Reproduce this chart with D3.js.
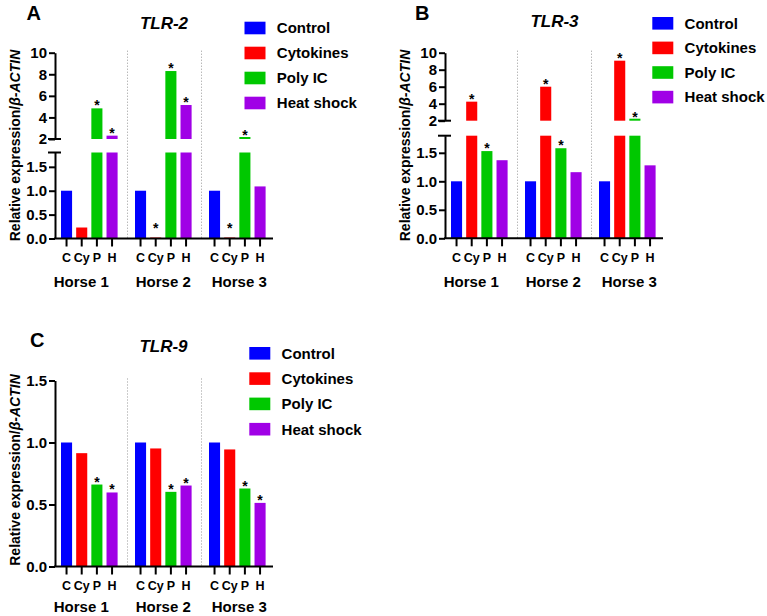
<!DOCTYPE html>
<html lang="en">
<head>
<meta charset="utf-8">
<title>TLR expression</title>
<script src="https://cdn.jsdelivr.net/npm/d3@7"></script>
<style>
  body { margin: 0; background: #fff; }
  svg text { font-family: "Liberation Sans", Arial, sans-serif; font-weight: bold; fill: #000; }
  .axis path, .axis line { stroke: #000; stroke-width: 2; }
  .sep { stroke: #999; stroke-width: 1; stroke-dasharray: 1,2; }
</style>
</head>
<body>
<div id="viz"></div>
<script>
// categories
const horses = ["Horse 1", "Horse 2", "Horse 3"];
const treatments = ["Control", "Cytokines", "Poly IC", "Heat shock"];
const treatAbbr = ["C", "Cy", "P", "H"];

// relative expression, one row per horse (C, Cy, P, H)
const tlr2 = [[1.00, 0.23, 4.84, 2.31], [1.00, 0.02, 8.30, 5.15], [1.00, 0.02, 2.12, 1.09]];
const tlr3 = [[1.00, 4.24, 1.53, 1.37], [1.00, 6.00, 1.58, 1.16], [1.00, 9.06, 2.08, 1.28]];
const tlr9 = [[1.00, 0.914, 0.661, 0.597], [1.00, 0.952, 0.602, 0.653], [1.00, 0.944, 0.629, 0.513]];

// significance marks (*)
const tlr2Sig = [[0, 0, 1, 1], [0, 1, 1, 1], [0, 1, 1, 0]];
const tlr3Sig = [[0, 1, 1, 0], [0, 1, 1, 0], [0, 1, 1, 0]];
const tlr9Sig = [[0, 0, 1, 1], [0, 0, 1, 1], [0, 0, 1, 1]];

// tick values
const lowTicks = [0, 0.5, 1.0, 1.5];
const highTicks = [2, 4, 6, 8, 10];

const colors = ["#0000ff", "#ff0000", "#00c800", "#a000e6"];
const color = d3.scaleOrdinal().domain(treatments).range(colors);

const svg = d3.select("#viz").append("svg")
  .attr("width", 767)
  .attr("height", 616);

function drawPanel(p) {
  const g = svg.append("g");
  const x0 = d3.scaleBand().domain(horses).range([p.ax + 2.5, p.ax + 224.5]);
  const x1 = d3.scaleBand().domain(treatments).range([3.5, 60.1]).paddingInner(0.27);
  const yLow = d3.scaleLinear().domain([0, p.lowMax]).range([p.y0, p.lowTop]);
  const yHigh = p.broken ? d3.scaleLinear().domain([2, 10]).range([p.hiBottom, p.hiTop]) : null;
  const axisTop = p.broken ? p.hiTop : p.lowTop;

  const recs = [];
  p.values.forEach((row, i) => row.forEach((v, j) => {
    recs.push({ h: horses[i], t: treatments[j], v: v, s: p.sig[i][j] });
  }));

  // group separators
  g.selectAll("line.sep").data(horses.slice(1)).join("line")
    .attr("class", "sep")
    .attr("x1", d => x0(d) - 4).attr("x2", d => x0(d) - 4)
    .attr("y1", axisTop - 2).attr("y2", p.y0);

  // bars, lower segment
  g.selectAll("rect.low").data(recs).join("rect")
    .attr("class", "low")
    .attr("x", d => x0(d.h) + x1(d.t))
    .attr("width", x1.bandwidth())
    .attr("y", d => yLow(Math.min(d.v, p.lowMax)))
    .attr("height", d => p.y0 - yLow(Math.min(d.v, p.lowMax)))
    .attr("fill", d => color(d.t));

  // bars, upper segment
  if (yHigh) {
    g.selectAll("rect.high").data(recs.filter(d => d.v > 2)).join("rect")
      .attr("class", "high")
      .attr("x", d => x0(d.h) + x1(d.t))
      .attr("width", x1.bandwidth())
      .attr("y", d => Math.min(yHigh(d.v), yHigh(2) - 2))
      .attr("height", d => Math.max(yHigh(2) - yHigh(d.v), 2))
      .attr("fill", d => color(d.t));
  }

  // stars
  g.selectAll("text.star").data(recs.filter(d => d.s)).join("text")
    .attr("class", "star")
    .attr("text-anchor", "middle")
    .style("font-size", "14px")
    .attr("x", d => x0(d.h) + x1(d.t) + x1.bandwidth() / 2)
    .attr("y", d => {
      const top = (yHigh && d.v > 2) ? yHigh(d.v) : yLow(Math.min(d.v, p.lowMax));
      return Math.min(top - 6, p.y0 - 14) + 8;
    })
    .text("*");

  // y axis
  const yAxLow = g.append("g").attr("class", "axis")
    .attr("transform", `translate(${p.ax},0)`)
    .call(d3.axisLeft(yLow).tickValues(lowTicks).tickFormat(d3.format(".1f"))
      .tickSize(6).tickSizeOuter(0).tickPadding(2));
  yAxLow.selectAll("text").style("font-size", "15px");

  if (yHigh) {
    const yAxHigh = g.append("g").attr("class", "axis")
      .attr("transform", `translate(${p.ax},0)`)
      .call(d3.axisLeft(yHigh).tickValues(highTicks).tickFormat(d3.format("d"))
        .tickSize(6).tickSizeOuter(0).tickPadding(2));
    yAxHigh.selectAll("text").style("font-size", "15px");
    // break marks
    g.selectAll("line.brk").data([yLow(p.lowMax), yHigh(2)]).join("line")
      .attr("class", "brk")
      .attr("stroke", "#000").attr("stroke-width", 2)
      .attr("x1", p.ax - 7).attr("x2", p.ax + 6)
      .attr("y1", d => d).attr("y2", d => d);
  }

  // x axis
  g.append("line")
    .attr("stroke", "#000").attr("stroke-width", 2)
    .attr("x1", p.ax - 1).attr("x2", p.ax + 218)
    .attr("y1", p.y0).attr("y2", p.y0);

  horses.forEach(h => {
    const xa = g.append("g").attr("class", "axis")
      .attr("transform", `translate(${x0(h)},${p.y0})`)
      .call(d3.axisBottom(x1).tickFormat((d, i) => treatAbbr[i])
        .tickSize(8).tickSizeOuter(0).tickPadding(6.5));
    xa.select(".domain").remove();
    xa.selectAll("text").style("font-size", "12.5px");
  });

  const nudge = [-8, 0, 2];
  g.selectAll("text.horse").data(horses).join("text")
    .attr("class", "horse")
    .attr("text-anchor", "middle")
    .style("font-size", "15px")
    .attr("x", (d, i) => x0(d) + 31.8 + nudge[i])
    .attr("y", Math.min(p.y0 + 48.5, 612))
    .text(d => d);

  // y axis title
  const yt = g.append("text")
    .attr("text-anchor", "middle")
    .attr("transform", `translate(${p.ax - 39.5},${p.ytitleY}) rotate(-90)`)
    .attr("dy", "0.35em")
    .style("font-size", "14px");
  yt.append("tspan").text("Relative expression/");
  yt.append("tspan").style("font-style", "italic").text("\u03b2-ACTIN");

  // panel letter and title
  g.append("text").attr("x", p.letterX).attr("y", p.letterY)
    .style("font-size", "20px").text(p.letter);
  g.append("text").attr("x", p.titleX).attr("y", p.titleY)
    .attr("text-anchor", "middle")
    .style("font-size", "17px").style("font-style", "italic")
    .text(p.title);

  // legend
  const lg = g.selectAll("g.leg").data(treatments).join("g")
    .attr("class", "leg")
    .attr("transform", (d, i) => `translate(${p.legX},${p.legY + i * p.legStep})`);
  lg.append("rect").attr("x", 0).attr("y", -6.3).attr("width", 21).attr("height", 12.6)
    .attr("fill", d => color(d));
  lg.append("text").attr("x", 32.3).attr("y", 5.3)
    .style("font-size", "15px").text(d => d);
}

drawPanel({
  letter: "A", title: "TLR-2", values: tlr2, sig: tlr2Sig, broken: true,
  ax: 55, y0: 238.5, lowMax: 1.8, lowTop: 152.5, hiBottom: 139, hiTop: 52.7,
  ytitleY: 145.5, letterX: 26.5, letterY: 20, titleX: 164, titleY: 28.5,
  legX: 244.5, legY: 28, legStep: 25
});

drawPanel({
  letter: "B", title: "TLR-3", values: tlr3, sig: tlr3Sig, broken: true,
  ax: 445, y0: 238.3, lowMax: 1.8, lowTop: 135.7, hiBottom: 120.7, hiTop: 52.7,
  ytitleY: 145.5, letterX: 415, letterY: 19.5, titleX: 554.5, titleY: 26.7,
  legX: 652.3, legY: 23.3, legStep: 24.6
});

drawPanel({
  letter: "C", title: "TLR-9", values: tlr9, sig: tlr9Sig, broken: false,
  ax: 55, y0: 566.5, lowMax: 1.5, lowTop: 380.5,
  ytitleY: 470, letterX: 30, letterY: 347, titleX: 163.5, titleY: 352.3,
  legX: 249.3, legY: 353.3, legStep: 25.3
});
</script>
</body>
</html>
